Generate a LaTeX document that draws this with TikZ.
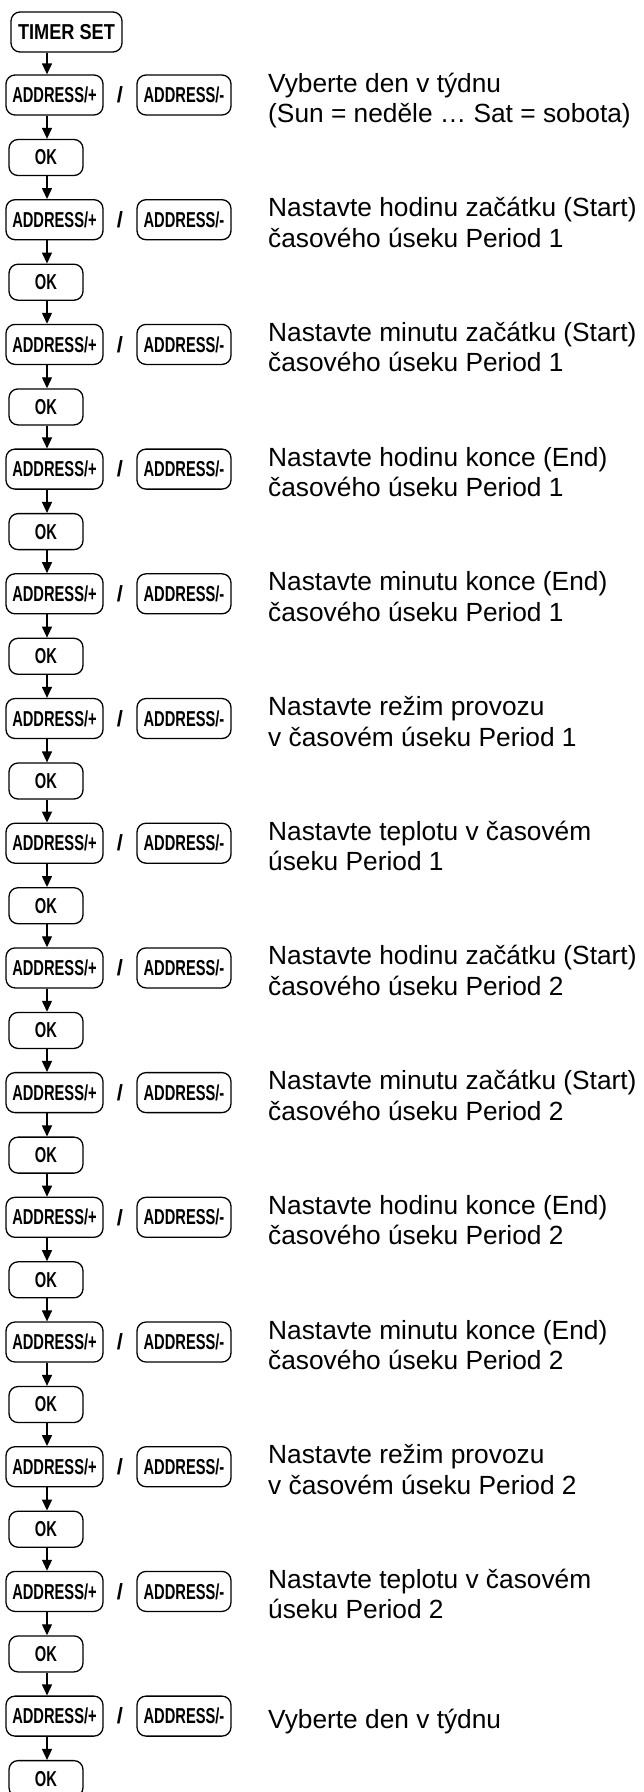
\documentclass[tikz,border=0pt]{standalone}
\usepackage{fontspec}
\setmainfont{Liberation Sans}
\newfontfamily\btnfont{Liberation Sans}[FakeStretch=0.68]
\newfontfamily\tsfont{Liberation Sans}[FakeStretch=0.84]
\usetikzlibrary{arrows.meta}
\begin{document}
\begin{tikzpicture}[x=1pt,y=-1pt,
  btn/.style={draw, line width=1.3pt, rounded corners=9pt, minimum height=40pt, inner sep=0pt,
    font=\btnfont\bfseries\fontsize{21.6}{24}\selectfont},
  okbtn/.style={btn, minimum width=74pt, minimum height=36pt},
  slashsty/.style={inner sep=0pt, font=\bfseries\fontsize{22}{24}\selectfont},
  arr/.style={line width=1.3pt, -{Triangle[length=11pt,width=10pt]}},
  desc/.style={anchor=base west, inner sep=0pt, font=\fontsize{26.3}{30.5}\selectfont}]
\useasboundingbox (0,0) rectangle (644,1792);
\coordinate (ax) at (47,0);
\node[btn, minimum width=111pt, font=\tsfont\bfseries\fontsize{21.6}{24}\selectfont] (ts) at (66.5,32) {TIMER SET};
\foreach \i in {0,...,13} {
  \pgfmathsetmacro\yc{95+124.7*\i}
  \node[btn, minimum width=97pt] (p\i) at (54.5,\yc) {ADDRESS/+};
  \node[slashsty] (s\i) at (120,\yc) {/};
  \node[btn, minimum width=94pt] (m\i) at (184,\yc) {ADDRESS/-};
  \node[okbtn] (ok\i) at (46,\yc+62.5) {OK};
  \draw[arr] (p\i.south -| ax) -- (ok\i.north -| ax);
}
\foreach \i/\la/\lb in {
  0/{Vyberte den v týdnu}/{(Sun = neděle … Sat = sobota)},
  1/{Nastavte hodinu začátku (Start)}/{časového úseku Period 1},
  2/{Nastavte minutu začátku (Start)}/{časového úseku Period 1},
  3/{Nastavte hodinu konce (End)}/{časového úseku Period 1},
  4/{Nastavte minutu konce (End)}/{časového úseku Period 1},
  5/{Nastavte režim provozu}/{v časovém úseku Period 1},
  6/{Nastavte teplotu v časovém}/{úseku Period 1},
  7/{Nastavte hodinu začátku (Start)}/{časového úseku Period 2},
  8/{Nastavte minutu začátku (Start)}/{časového úseku Period 2},
  9/{Nastavte hodinu konce (End)}/{časového úseku Period 2},
  10/{Nastavte minutu konce (End)}/{časového úseku Period 2},
  11/{Nastavte režim provozu}/{v časovém úseku Period 2},
  12/{Nastavte teplotu v časovém}/{úseku Period 2}} {
  \pgfmathsetmacro\yc{95+124.7*\i}
  \node[desc] (ta\i) at (268,\yc-3) {\la};
  \node[desc] (tb\i) at (268,\yc+27.5) {\lb};
}
\node[desc] (ta13) at (268,{95+124.7*13+12}) {Vyberte den v týdnu};
\draw[arr] (ts.south -| ax) -- (p0.north -| ax);
\foreach \i [evaluate=\i as \j using int(\i+1)] in {0,...,12} {
  \draw[arr] (ok\i.south -| ax) -- (p\j.north -| ax);
}
\end{tikzpicture}
\end{document}
